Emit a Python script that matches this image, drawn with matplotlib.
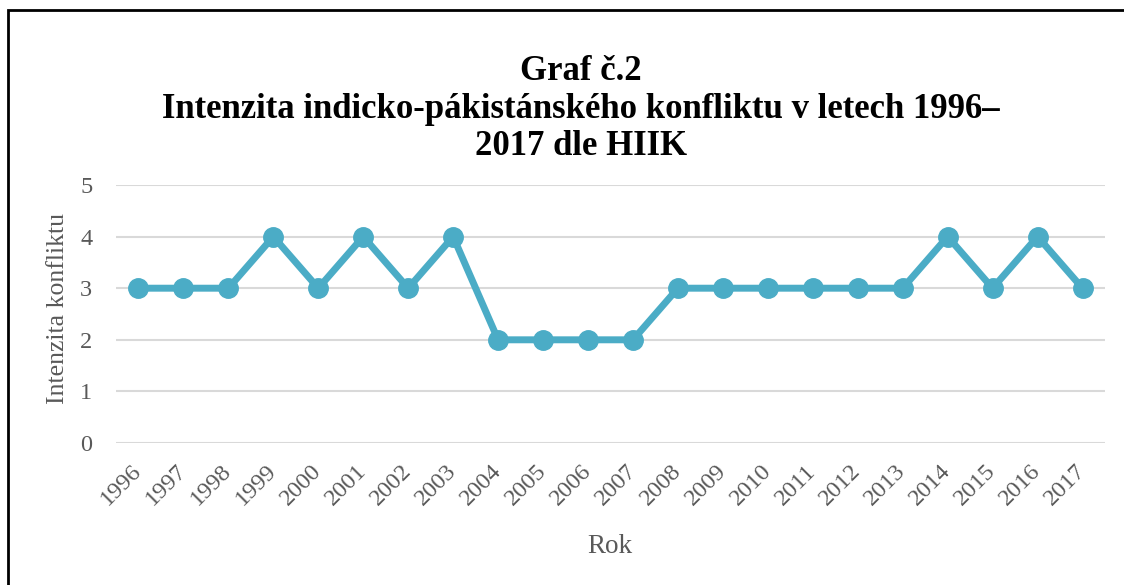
import matplotlib
matplotlib.use("Agg")
import matplotlib.pyplot as plt
from matplotlib.patches import Rectangle

years = ["1996", "1997", "1998", "1999", "2000", "2001", "2002", "2003", "2004", "2005", "2006",
         "2007", "2008", "2009", "2010", "2011", "2012", "2013", "2014", "2015", "2016", "2017"]
intensity = [3, 3, 3, 4, 3, 4, 3, 4, 2, 2, 2, 2, 3, 3, 3, 3, 3, 3, 4, 3, 4, 3]
title_lines = ["Graf č.2",
               "Intenzita indicko-pákistánského konfliktu v letech 1996–",
               "2017 dle HIIK"]

plt.rcParams['font.family'] = ['Liberation Serif', 'DejaVu Serif']

W, H = 1124, 585
fig = plt.figure(figsize=(W / 100, H / 100), dpi=100)
ax = fig.add_axes([116 / W, 1 - 443 / H, (1105 - 116) / W, (443 - 185) / H])

x = list(range(len(years)))
ax.plot(x, intensity, color='#4BACC6', lw=5, marker='o', ms=14, zorder=3,
        solid_joinstyle='miter')
ax.set_xlim(-0.5, len(years) - 0.5)
ax.set_ylim(0, 5)
ax.set_yticks(range(0, 6))
ax.yaxis.grid(True, color='#D9D9D9', lw=1.5)
ax.set_axisbelow(True)
for s in ax.spines.values():
    s.set_visible(False)
ax.tick_params(axis='both', length=0, labelsize=17.5, colors='#595959')
ax.tick_params(axis='y', pad=17)
ax.set_xticks(x)
ax.set_xticklabels(years, rotation=45, ha='right', va='center', rotation_mode='anchor')
ax.tick_params(axis='x', pad=18)

fig.text(58 / W, 1 - 308 / H, "Intenzita konfliktu", rotation=90, ha='center', va='center',
         fontsize=18.5, color='#595959')
fig.text(610 / W, 1 - 553 / H, "Rok", ha='center', va='baseline', fontsize=19.5, color='#595959')

baselines = [80, 118, 155]
for t, b in zip(title_lines, baselines):
    fig.text(581 / W, 1 - b / H, t, ha='center', va='baseline', fontsize=25,
             fontweight='bold', color='black')

fig.patches.append(Rectangle((8 / W, -0.1), 1.2, 1 - 10 / H + 0.1, transform=fig.transFigure,
                             fill=False, edgecolor='black', lw=2))

fig.savefig("out.png", dpi=100)
